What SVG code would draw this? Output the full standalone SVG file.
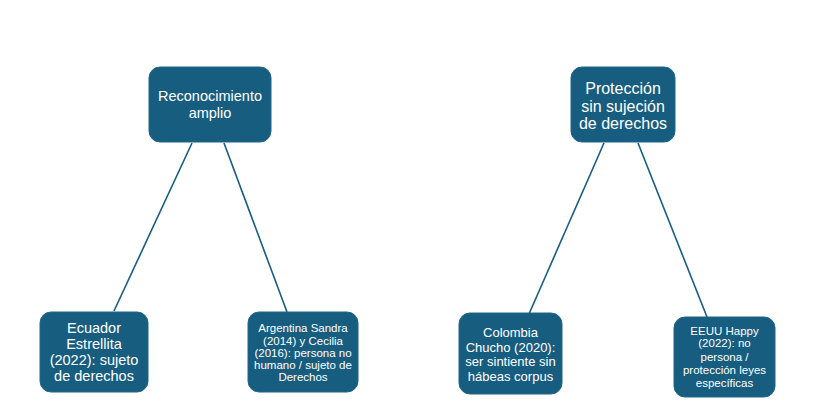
<svg xmlns="http://www.w3.org/2000/svg" width="819" height="420" viewBox="0 0 819 420">
<style>
.box{fill:#175d80;stroke:#1f6788;stroke-width:1}
.t{fill:#ffffff;font-family:"Liberation Sans","Open Sans",sans-serif;text-anchor:middle}
.c{stroke:#175d80;stroke-width:1.6;fill:none}
</style>
<rect width="819" height="420" fill="#ffffff"/>
<g id="connectors">
<line class="c" x1="192" y1="143" x2="114" y2="311"/>
<line class="c" x1="224" y1="143" x2="287" y2="312"/>
<line class="c" x1="604" y1="143" x2="529" y2="314"/>
<line class="c" x1="638" y1="143" x2="707" y2="317"/>
</g>
<g id="n1">
<rect class="box" x="149" y="67" width="122" height="75" rx="11"/>
<text class="t" font-size="14.5"><tspan x="210" y="101">Reconocimiento</tspan><tspan x="210" y="118">amplio</tspan></text>
</g>
<g id="n2">
<rect class="box" x="571" y="67" width="104" height="75" rx="11"/>
<text class="t" font-size="16"><tspan x="623" y="93.5">Protección</tspan><tspan x="623" y="112">sin sujeción</tspan><tspan x="623" y="129">de derechos</tspan></text>
</g>
<g id="n3">
<rect class="box" x="40" y="312" width="108" height="80" rx="11"/>
<text class="t" font-size="14.5"><tspan x="94" y="333">Ecuador</tspan><tspan x="94" y="349">Estrellita</tspan><tspan x="94" y="364.5">(2022): sujeto</tspan><tspan x="94" y="381">de derechos</tspan></text>
</g>
<g id="n4">
<rect class="box" x="248" y="312" width="110" height="80" rx="11"/>
<text class="t" font-size="11.5"><tspan x="303" y="332">Argentina Sandra</tspan><tspan x="303" y="344.5">(2014) y Cecilia</tspan><tspan x="303" y="357">(2016): persona no</tspan><tspan x="303" y="369">humano / sujeto de</tspan><tspan x="303" y="381">Derechos</tspan></text>
</g>
<g id="n5">
<rect class="box" x="459" y="313" width="103" height="81" rx="11"/>
<text class="t" font-size="13"><tspan x="510.5" y="336.5">Colombia</tspan><tspan x="510.5" y="351.5">Chucho (2020):</tspan><tspan x="510.5" y="365.5">ser sintiente sin</tspan><tspan x="510.5" y="380.5">hábeas corpus</tspan></text>
</g>
<g id="n6">
<rect class="box" x="674" y="317" width="101" height="80" rx="11"/>
<text class="t" font-size="11.5"><tspan x="724.5" y="335">EEUU Happy</tspan><tspan x="724.5" y="347">(2022): no</tspan><tspan x="724.5" y="361">persona /</tspan><tspan x="724.5" y="374">protección leyes</tspan><tspan x="724.5" y="387">específicas</tspan></text>
</g>
</svg>
